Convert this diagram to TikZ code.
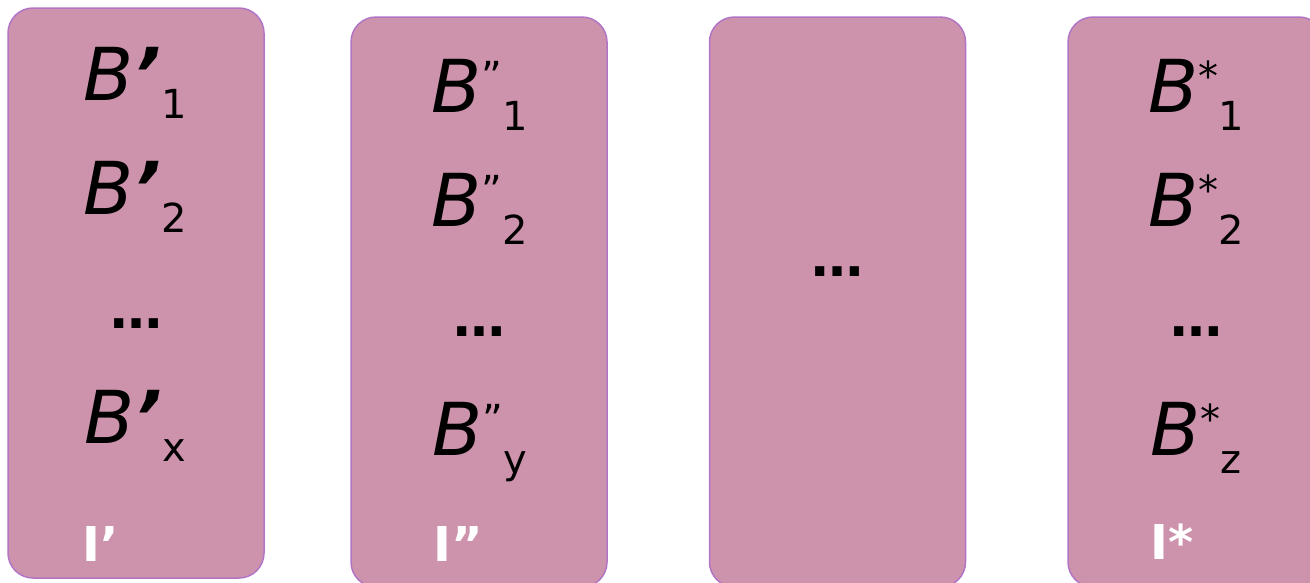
\documentclass[tikz,border=0pt]{standalone}
\usepackage{fontspec}
\setmainfont{DejaVu Sans}
\definecolor{boxfill}{HTML}{CD93AC}
\definecolor{boxedge}{HTML}{B275C6}
\newcommand{\bigfnt}{\fontsize{73}{80}\selectfont}
\newcommand{\subfnt}{\fontsize{40}{44}\selectfont}
\newcommand{\lowsub}[1]{{\subfnt\upshape\raisebox{-18pt}{#1}}}
\newcommand{\highsup}[1]{{\subfnt\upshape\raisebox{22pt}{#1}}}
\tikzset{
  panel/.style={draw=boxedge, line width=1.5pt, fill=boxfill, rounded corners=25pt,
    minimum width=256pt, minimum height=570pt, inner sep=0pt},
  entry/.style={inner sep=0pt, anchor=base, font=\bigfnt, text=black},
  dotsent/.style={inner sep=0pt, anchor=base, font=\fontsize{52}{60}\selectfont\bfseries, text=black},
  lbl/.style={inner sep=0pt, anchor=base west, font=\fontsize{48}{52}\selectfont\bfseries, text=white}
}
\begin{document}
\begin{tikzpicture}[x=1pt,y=-1pt]
\useasboundingbox (0,0) rectangle (1310,582);
\begin{scope}
\clip (0,0) rectangle (1310,582);
\node[panel] (p1) at (136,293) {};
\node[panel] (p2) at (479,302) {};
\node[panel] (p3) at (837.5,302) {};
\node[panel] (p4) at (1196,302) {};
\end{scope}
% panel 1
\node[entry] (a1) at (135,100) {{\itshape B}{\bfseries\itshape ’}\lowsub{1}};
\node[entry] (a2) at (135,214) {{\itshape B}{\bfseries\itshape ’}\lowsub{2}};
\node[dotsent] (a3) at (136,328) {…};
\node[entry] (a4) at (135,443) {{\itshape B}{\bfseries\itshape ’}\lowsub{x}};
\node[lbl] (l1) at (82,561) {I’};
% panel 2
\node[entry] (b1) at (480,112) {{\itshape B}\highsup{”}\lowsub{1}};
\node[entry] (b2) at (480,226) {{\itshape B}\highsup{”}\lowsub{2}};
\node[dotsent] (b3) at (479,336) {…};
\node[entry] (b4) at (480,455) {{\itshape B}\highsup{”}\lowsub{y}};
\node[lbl] (l2) at (433,561) {I”};
% panel 3
\node[dotsent] (c1) at (837.5,276) {…};
% panel 4
\node[entry] (d1) at (1196,112) {{\itshape B}\highsup{*}\lowsub{1}};
\node[entry] (d2) at (1196,226) {{\itshape B}\highsup{*}\lowsub{2}};
\node[dotsent] (d3) at (1196,336) {…};
\node[entry] (d4) at (1196,455) {{\itshape B}\highsup{*}\lowsub{z}};
\node[lbl] (l4) at (1150,559) {I*};
\end{tikzpicture}
\end{document}
